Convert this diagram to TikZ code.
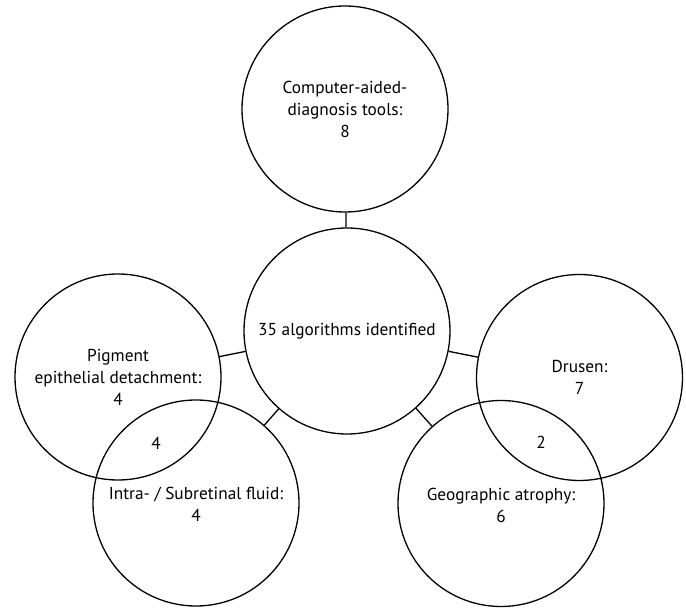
\documentclass[tikz,border=0pt]{standalone}
\usepackage{fontspec}
\setmainfont{PT Sans}
\begin{document}
\begin{tikzpicture}[x=1pt,y=-1pt,
  venn/.style={circle,draw=black,line width=1.3pt,minimum size=206pt,inner sep=0pt,align=center,
    font=\fontsize{17.3}{22}\selectfont},
  link/.style={draw=black,line width=1.3pt},
  num/.style={inner sep=0pt,font=\fontsize{17.3}{22}\selectfont}]
\useasboundingbox (0,0) rectangle (686,609);
\node[venn] (cad) at (345,109) {Computer-aided-\\diagnosis tools:\\8};
\node[venn] (alg) at (347,331) {35 algorithms identified};
\node[venn] (ped) at (118,377) {Pigment\\epithelial detachment:\\4};
\node[venn] (fluid) at (196,503) {\\[-6pt]Intra- / Subretinal fluid:\\4};
\node[venn] (dru) at (579.5,377.5) {Drusen:\\7};
\node[venn] (ga) at (501,503.5) {\\[-6pt]Geographic atrophy:\\6};
\node[num] (ovl) at (156,443) {4};
\node[num] (ovr) at (541,442) {2};
\draw[link] (cad) -- (alg);
\draw[link] (ped) -- (alg);
\draw[link] (fluid) -- (alg);
\draw[link] (dru) -- (alg);
\draw[link] (ga) -- (alg);
\end{tikzpicture}
\end{document}
